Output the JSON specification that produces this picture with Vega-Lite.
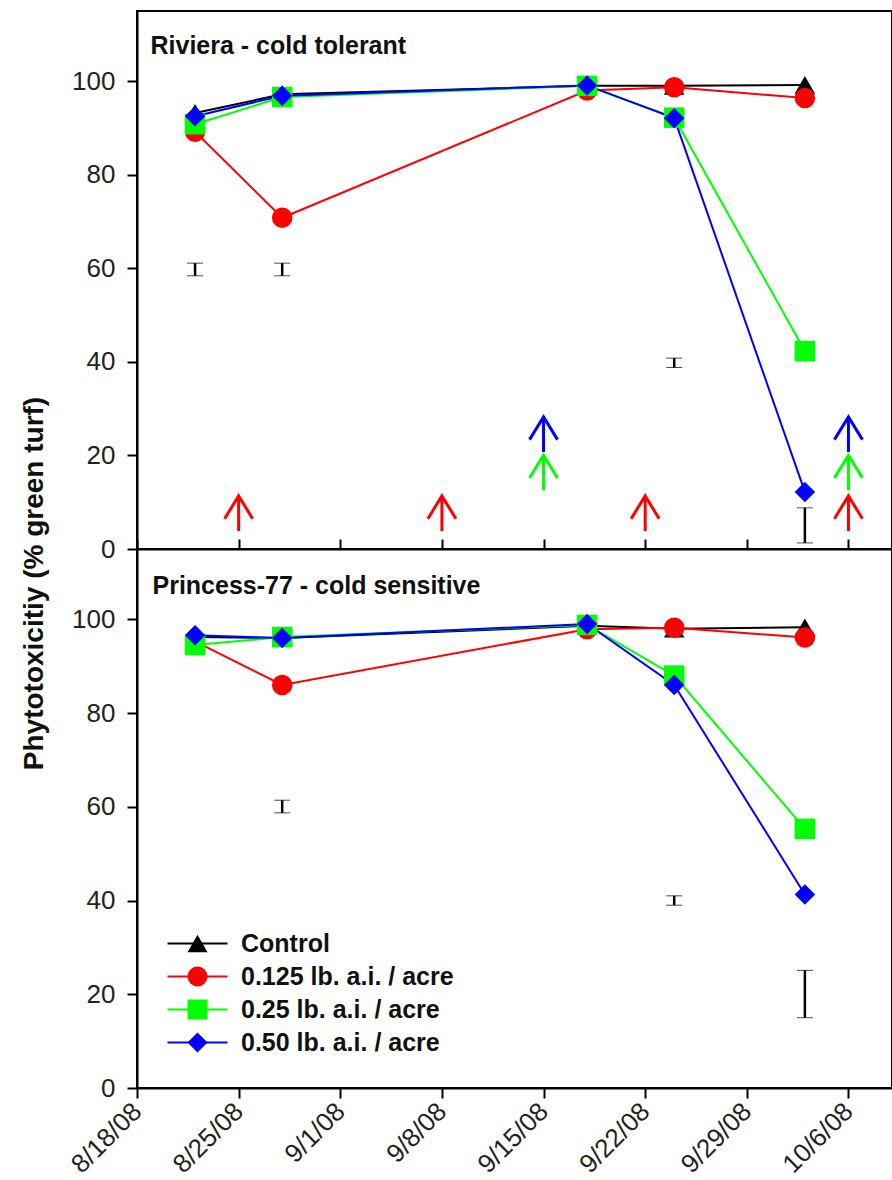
{
  "$schema": "https://vega.github.io/schema/vega-lite/v6.json",
  "padding": {"left": 18, "top": 10, "right": 0, "bottom": 0},
  "spacing": 0,
  "bounds": "flush",
  "config": {
    "font": "Liberation Sans",
    "view": {"stroke": "black", "strokeWidth": 2},
    "axis": {
      "domainColor": "black", "domainWidth": 2, "tickColor": "black", "tickWidth": 2,
      "labelFont": "Liberation Sans", "labelFontSize": 26, "labelColor": "#222",
      "grid": false
    }
  },
  "datasets": {
    "obs": [
      {"panel": "Riviera", "trt": "Control", "date": "2008-08-22", "v": 93.2},
      {"panel": "Riviera", "trt": "Control", "date": "2008-08-28", "v": 97.2},
      {"panel": "Riviera", "trt": "Control", "date": "2008-09-18", "v": 99.0},
      {"panel": "Riviera", "trt": "Control", "date": "2008-09-24", "v": 99.0},
      {"panel": "Riviera", "trt": "Control", "date": "2008-10-03", "v": 99.2},
      {"panel": "Riviera", "trt": "0.125 lb. a.i. / acre", "date": "2008-08-22", "v": 89.2},
      {"panel": "Riviera", "trt": "0.125 lb. a.i. / acre", "date": "2008-08-28", "v": 70.8},
      {"panel": "Riviera", "trt": "0.125 lb. a.i. / acre", "date": "2008-09-18", "v": 98.0},
      {"panel": "Riviera", "trt": "0.125 lb. a.i. / acre", "date": "2008-09-24", "v": 98.7},
      {"panel": "Riviera", "trt": "0.125 lb. a.i. / acre", "date": "2008-10-03", "v": 96.4},
      {"panel": "Riviera", "trt": "0.25 lb. a.i. / acre", "date": "2008-08-22", "v": 90.8},
      {"panel": "Riviera", "trt": "0.25 lb. a.i. / acre", "date": "2008-08-28", "v": 96.6},
      {"panel": "Riviera", "trt": "0.25 lb. a.i. / acre", "date": "2008-09-18", "v": 99.0},
      {"panel": "Riviera", "trt": "0.25 lb. a.i. / acre", "date": "2008-09-24", "v": 92.2},
      {"panel": "Riviera", "trt": "0.25 lb. a.i. / acre", "date": "2008-10-03", "v": 42.3},
      {"panel": "Riviera", "trt": "0.50 lb. a.i. / acre", "date": "2008-08-22", "v": 92.5},
      {"panel": "Riviera", "trt": "0.50 lb. a.i. / acre", "date": "2008-08-28", "v": 96.9},
      {"panel": "Riviera", "trt": "0.50 lb. a.i. / acre", "date": "2008-09-18", "v": 99.1},
      {"panel": "Riviera", "trt": "0.50 lb. a.i. / acre", "date": "2008-09-24", "v": 92.1},
      {"panel": "Riviera", "trt": "0.50 lb. a.i. / acre", "date": "2008-10-03", "v": 12.2},
      {"panel": "Princess", "trt": "Control", "date": "2008-08-22", "v": 96.2},
      {"panel": "Princess", "trt": "Control", "date": "2008-08-28", "v": 96.0},
      {"panel": "Princess", "trt": "Control", "date": "2008-09-18", "v": 98.6},
      {"panel": "Princess", "trt": "Control", "date": "2008-09-24", "v": 98.0},
      {"panel": "Princess", "trt": "Control", "date": "2008-10-03", "v": 98.3},
      {"panel": "Princess", "trt": "0.125 lb. a.i. / acre", "date": "2008-08-22", "v": 95.3},
      {"panel": "Princess", "trt": "0.125 lb. a.i. / acre", "date": "2008-08-28", "v": 86.0},
      {"panel": "Princess", "trt": "0.125 lb. a.i. / acre", "date": "2008-09-18", "v": 97.9},
      {"panel": "Princess", "trt": "0.125 lb. a.i. / acre", "date": "2008-09-24", "v": 98.2},
      {"panel": "Princess", "trt": "0.125 lb. a.i. / acre", "date": "2008-10-03", "v": 96.1},
      {"panel": "Princess", "trt": "0.25 lb. a.i. / acre", "date": "2008-08-22", "v": 94.5},
      {"panel": "Princess", "trt": "0.25 lb. a.i. / acre", "date": "2008-08-28", "v": 96.2},
      {"panel": "Princess", "trt": "0.25 lb. a.i. / acre", "date": "2008-09-18", "v": 98.8},
      {"panel": "Princess", "trt": "0.25 lb. a.i. / acre", "date": "2008-09-24", "v": 88.0},
      {"panel": "Princess", "trt": "0.25 lb. a.i. / acre", "date": "2008-10-03", "v": 55.3},
      {"panel": "Princess", "trt": "0.50 lb. a.i. / acre", "date": "2008-08-22", "v": 96.6},
      {"panel": "Princess", "trt": "0.50 lb. a.i. / acre", "date": "2008-08-28", "v": 96.0},
      {"panel": "Princess", "trt": "0.50 lb. a.i. / acre", "date": "2008-09-18", "v": 99.0},
      {"panel": "Princess", "trt": "0.50 lb. a.i. / acre", "date": "2008-09-24", "v": 86.0},
      {"panel": "Princess", "trt": "0.50 lb. a.i. / acre", "date": "2008-10-03", "v": 41.3}
    ],
    "lsd": [
      {"panel": "Riviera", "date": "2008-08-22", "lo": 58.4, "hi": 61.1},
      {"panel": "Riviera", "date": "2008-08-28", "lo": 58.4, "hi": 61.1},
      {"panel": "Riviera", "date": "2008-09-24", "lo": 38.8, "hi": 40.8},
      {"panel": "Riviera", "date": "2008-10-03", "lo": 1.3, "hi": 8.8},
      {"panel": "Princess", "date": "2008-08-28", "lo": 58.7, "hi": 61.4},
      {"panel": "Princess", "date": "2008-09-24", "lo": 39.0, "hi": 41.0},
      {"panel": "Princess", "date": "2008-10-03", "lo": 15.0, "hi": 25.1}
    ],
    "arrows": [
      {"panel": "Riviera", "trt": "0.125 lb. a.i. / acre", "date": "2008-08-25", "v": 7.6},
      {"panel": "Riviera", "trt": "0.125 lb. a.i. / acre", "date": "2008-09-08", "v": 7.6},
      {"panel": "Riviera", "trt": "0.125 lb. a.i. / acre", "date": "2008-09-22", "v": 7.6},
      {"panel": "Riviera", "trt": "0.125 lb. a.i. / acre", "date": "2008-10-06", "v": 7.6},
      {"panel": "Riviera", "trt": "0.25 lb. a.i. / acre", "date": "2008-09-15", "v": 16.3},
      {"panel": "Riviera", "trt": "0.25 lb. a.i. / acre", "date": "2008-10-06", "v": 16.3},
      {"panel": "Riviera", "trt": "0.50 lb. a.i. / acre", "date": "2008-09-15", "v": 24.5},
      {"panel": "Riviera", "trt": "0.50 lb. a.i. / acre", "date": "2008-10-06", "v": 24.5}
    ]
  },
  "resolve": {
    "scale": {"color": "independent", "shape": "independent"},
    "legend": {"color": "independent", "shape": "independent"}
  },
  "vconcat": [
    {
      "width": 755,
      "height": 538,
      "resolve": {"scale": {"color": "independent", "shape": "independent"}},
      "encoding": {
        "x": {
          "field": "date", "type": "temporal",
          "scale": {"type": "utc", "domain": [{"year": 2008, "month": 8, "date": 18, "utc": true}, {"year": 2008, "month": 10, "date": 9, "utc": true}]},
          "axis": {
            "title": "Riviera - cold tolerant", "titleAngle": 0, "titleAlign": "left", "titleBaseline": "alphabetic", "titleX": 13, "titleY": -496, "titleFontSize": 25, "titleFontWeight": "bold", "titleFont": "Liberation Sans", "titleColor": "#111",
            "labels": false, "tickSize": -10,
            "values": [
              {"year": 2008, "month": 8, "date": 18, "utc": true},
              {"year": 2008, "month": 8, "date": 25, "utc": true},
              {"year": 2008, "month": 9, "date": 1, "utc": true},
              {"year": 2008, "month": 9, "date": 8, "utc": true},
              {"year": 2008, "month": 9, "date": 15, "utc": true},
              {"year": 2008, "month": 9, "date": 22, "utc": true},
              {"year": 2008, "month": 9, "date": 29, "utc": true},
              {"year": 2008, "month": 10, "date": 6, "utc": true}
            ]
          }
        },
        "y": {
          "field": "v", "type": "quantitative",
          "scale": {"domain": [0, 115], "nice": false, "zero": false},
          "axis": {"title": null, "values": [0, 20, 40, 60, 80, 100], "tickSize": 10, "labelPadding": 12}
        }
      },
      "layer": [
        {
          "data": {"name": "obs"},
          "transform": [{"filter": "datum.panel === 'Riviera'"}],
          "mark": {"type": "line", "strokeWidth": 2},
          "encoding": {
            "color": {"field": "trt", "type": "nominal", "legend": null,
              "scale": {"domain": ["Control", "0.125 lb. a.i. / acre", "0.25 lb. a.i. / acre", "0.50 lb. a.i. / acre"], "range": ["#000000", "#ff0000", "#00ff00", "#0000ff"]}}
          }
        },
        {
          "data": {"name": "obs"},
          "transform": [{"filter": "datum.panel === 'Riviera'"}],
          "mark": {"type": "point", "filled": true, "opacity": 1, "size": 420},
          "encoding": {
            "color": {"field": "trt", "type": "nominal", "legend": null,
              "scale": {"domain": ["Control", "0.125 lb. a.i. / acre", "0.25 lb. a.i. / acre", "0.50 lb. a.i. / acre"], "range": ["#000000", "#ff0000", "#00ff00", "#0000ff"]}},
            "shape": {"field": "trt", "type": "nominal", "legend": null,
              "scale": {"domain": ["Control", "0.125 lb. a.i. / acre", "0.25 lb. a.i. / acre", "0.50 lb. a.i. / acre"], "range": ["triangle-up", "circle", "square", "diamond"]}}
          }
        },
        {
          "data": {"name": "lsd"},
          "transform": [{"filter": "datum.panel === 'Riviera'"}],
          "mark": {"type": "errorbar", "color": "black", "rule": {"strokeWidth": 2.5}, "ticks": {"size": 16, "strokeWidth": 2.5, "color": "black"}},
          "encoding": {
            "y": {"field": "lo", "type": "quantitative"},
            "y2": {"field": "hi"}
          }
        },
        {
          "data": {"name": "arrows"},
          "transform": [{"filter": "datum.panel === 'Riviera'"}],
          "mark": {"type": "point", "filled": false, "opacity": 1, "strokeWidth": 3, "size": 1225, "shape": "M0,1L0,-1M-0.8,0.3L0,-1L0.8,0.3"},
          "encoding": {
            "color": {"field": "trt", "type": "nominal", "legend": null,
              "scale": {"domain": ["Control", "0.125 lb. a.i. / acre", "0.25 lb. a.i. / acre", "0.50 lb. a.i. / acre"], "range": ["#000000", "#ff0000", "#00ff00", "#0000ff"]}}
          }
        }
      ]
    },
    {
      "width": 755,
      "height": 539,
      "resolve": {"scale": {"color": "independent", "shape": "independent"}},
      "encoding": {
        "x": {
          "field": "date", "type": "temporal",
          "scale": {"type": "utc", "domain": [{"year": 2008, "month": 8, "date": 18, "utc": true}, {"year": 2008, "month": 10, "date": 9, "utc": true}]},
          "axis": {
            "title": "Princess-77 - cold sensitive", "titleAngle": 0, "titleAlign": "left", "titleBaseline": "alphabetic", "titleX": 15, "titleY": -495, "titleFontSize": 25, "titleFontWeight": "bold", "titleFont": "Liberation Sans", "titleColor": "#111",
            "format": "%-m/%-d/%y", "tickSize": 10, "labelAngle": -45, "labelAlign": "right", "labelBaseline": "middle", "labelPadding": 9, "labelOverlap": false, "labelFlush": false, "labelBound": false,
            "values": [
              {"year": 2008, "month": 8, "date": 18, "utc": true},
              {"year": 2008, "month": 8, "date": 25, "utc": true},
              {"year": 2008, "month": 9, "date": 1, "utc": true},
              {"year": 2008, "month": 9, "date": 8, "utc": true},
              {"year": 2008, "month": 9, "date": 15, "utc": true},
              {"year": 2008, "month": 9, "date": 22, "utc": true},
              {"year": 2008, "month": 9, "date": 29, "utc": true},
              {"year": 2008, "month": 10, "date": 6, "utc": true}
            ]
          }
        },
        "y": {
          "field": "v", "type": "quantitative",
          "scale": {"domain": [0, 115], "nice": false, "zero": false},
          "axis": {"title": "Phytotoxicitiy (% green turf)", "titleFontSize": 28, "titleFontWeight": "bold", "titleFont": "Liberation Sans", "titleColor": "#111", "titleAngle": -90, "titleAlign": "center", "titleBaseline": "alphabetic", "titleX": -95, "titleY": 34, "values": [0, 20, 40, 60, 80, 100], "tickSize": 10, "labelPadding": 12}
        }
      },
      "layer": [
        {
          "data": {"name": "obs"},
          "transform": [{"filter": "datum.panel === 'Princess'"}],
          "mark": {"type": "line", "strokeWidth": 2},
          "encoding": {
            "color": {"field": "trt", "type": "nominal",
              "scale": {"domain": ["Control", "0.125 lb. a.i. / acre", "0.25 lb. a.i. / acre", "0.50 lb. a.i. / acre"], "range": ["#000000", "#ff0000", "#00ff00", "#0000ff"]},
              "legend": {"orient": "none", "legendX": 48, "legendY": 382, "title": null, "padding": 0, "symbolType": "M-3,0H3", "symbolSize": 400, "symbolStrokeWidth": 2, "labelFontSize": 25, "labelFontWeight": "bold", "labelOpacity": 0, "labelOffset": 31, "labelLimit": 400, "rowPadding": 7}}
          }
        },
        {
          "data": {"name": "obs"},
          "transform": [{"filter": "datum.panel === 'Princess'"}],
          "mark": {"type": "point", "filled": true, "opacity": 1, "size": 420},
          "encoding": {
            "color": {"field": "trt", "type": "nominal",
              "scale": {"domain": ["Control", "0.125 lb. a.i. / acre", "0.25 lb. a.i. / acre", "0.50 lb. a.i. / acre"], "range": ["#000000", "#ff0000", "#00ff00", "#0000ff"]},
              "legend": {"orient": "none", "legendX": 48, "legendY": 382, "title": null, "padding": 0, "symbolSize": 400, "symbolStrokeWidth": 0, "symbolOpacity": 1, "labelFontSize": 25, "labelFontWeight": "bold", "labelColor": "#111", "labelOffset": 31, "labelLimit": 400, "rowPadding": 7}},
            "shape": {"field": "trt", "type": "nominal",
              "scale": {"domain": ["Control", "0.125 lb. a.i. / acre", "0.25 lb. a.i. / acre", "0.50 lb. a.i. / acre"], "range": ["triangle-up", "circle", "square", "diamond"]},
              "legend": {"orient": "none", "legendX": 48, "legendY": 382, "title": null, "padding": 0, "symbolSize": 400, "symbolStrokeWidth": 0, "labelFontSize": 25, "labelFontWeight": "bold", "labelColor": "#111", "labelOffset": 31, "labelLimit": 400, "rowPadding": 7}}
          }
        },
        {
          "data": {"name": "lsd"},
          "transform": [{"filter": "datum.panel === 'Princess'"}],
          "mark": {"type": "errorbar", "color": "black", "rule": {"strokeWidth": 2.5}, "ticks": {"size": 16, "strokeWidth": 2.5, "color": "black"}},
          "encoding": {
            "y": {"field": "lo", "type": "quantitative"},
            "y2": {"field": "hi"}
          }
        }
      ]
    }
  ]
}
